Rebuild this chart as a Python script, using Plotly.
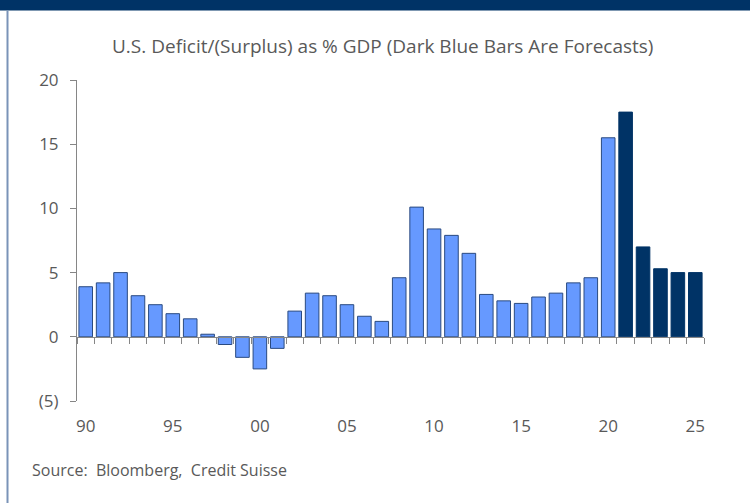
import plotly.graph_objects as go

years = list(range(1990, 2026))
deficit = [3.9, 4.2, 5.0, 3.2, 2.5, 1.8, 1.4, 0.2, -0.6, -1.6, -2.5, -0.9,
           2.0, 3.4, 3.2, 2.5, 1.6, 1.2, 4.6, 10.1, 8.4, 7.9, 6.5, 3.3,
           2.8, 2.6, 3.1, 3.4, 4.2, 4.6, 15.5, 17.5, 7.0, 5.3, 5.0, 5.0]
first_forecast_year = 2021
x_tick_vals = [1990, 1995, 2000, 2005, 2010, 2015, 2020, 2025]
x_tick_text = ["90", "95", "00", "05", "10", "15", "20", "25"]
y_tick_vals = [-5, 0, 5, 10, 15, 20]
y_tick_text = ["(5)", "0", "5", "10", "15", "20"]
title_text = "U.S. Deficit/(Surplus) as % GDP (Dark Blue Bars Are Forecasts)"
source_text = "Source:  Bloomberg,  Credit Suisse"

LIGHT = "#6699FF"
LIGHT_EDGE = "#2A4A80"
DARK = "#003366"
TEXT = "#595959"
AXIS = "#868686"
FONT = "Open Sans, sans-serif"

hist_x = [y for y in years if y < first_forecast_year]
hist_y = [v for y, v in zip(years, deficit) if y < first_forecast_year]
fc_x = [y for y in years if y >= first_forecast_year]
fc_y = [v for y, v in zip(years, deficit) if y >= first_forecast_year]

fig = go.Figure()
fig.add_trace(go.Bar(x=hist_x, y=hist_y, marker=dict(color=LIGHT, line=dict(color=LIGHT_EDGE, width=1)),
                     hoverinfo="skip"))
fig.add_trace(go.Bar(x=fc_x, y=fc_y, marker=dict(color=DARK, line=dict(color=DARK, width=1)),
                     hoverinfo="skip"))
# invisible trace to carry the zero-line axis with boundary ticks
fig.add_trace(go.Scatter(x=years, y=deficit, xaxis="x2", mode="markers",
                         marker=dict(opacity=0), hoverinfo="skip", showlegend=False))

xr = [years[0] - 0.5, years[-1] + 0.5]
boundaries = [y - 0.5 for y in years] + [years[-1] + 0.5]
yr = [y_tick_vals[0], y_tick_vals[-1]]
zero_pos = (0 - yr[0]) / (yr[1] - yr[0])

W, H = 750, 503
L, R, T, B = 77, 46, 79.5, 102
pw, ph = W - L - R, H - T - B

def px_x(p):
    return (p - L) / pw

def px_y(p):
    return (H - B - p) / ph

fig.update_layout(
    width=W, height=H,
    margin=dict(l=L, r=R, t=T, b=B, autoexpand=False),
    paper_bgcolor="white", plot_bgcolor="white",
    showlegend=False, barmode="overlay", bargap=0.22,
    font=dict(family=FONT, color=TEXT),
    xaxis=dict(range=xr, tickvals=x_tick_vals, ticktext=x_tick_text,
               showline=False, showgrid=False, zeroline=False,
               ticks="outside", ticklen=10, tickcolor="rgba(0,0,0,0)",
               tickfont=dict(size=17, color=TEXT, family=FONT), fixedrange=True),
    xaxis2=dict(range=xr, overlaying="x", anchor="free", position=zero_pos,
                tickvals=boundaries, showticklabels=False, showline=True,
                linecolor=AXIS, linewidth=1, ticks="outside", ticklen=6,
                tickcolor=AXIS, tickwidth=1, showgrid=False, zeroline=False,
                side="bottom"),
    yaxis=dict(range=yr, tickvals=y_tick_vals, ticktext=y_tick_text,
               showline=True, linecolor=AXIS, linewidth=1, ticks="outside",
               ticklen=6, tickcolor=AXIS, showgrid=False, zeroline=False,
               tickfont=dict(size=17, color=TEXT, family=FONT),
               ticklabelstandoff=8),
    shapes=[
        dict(type="rect", xref="paper", yref="paper", x0=px_x(-5), x1=px_x(W + 5),
             y0=px_y(10), y1=px_y(-5), fillcolor="#003366", line=dict(width=0), layer="above"),
        dict(type="line", xref="paper", yref="paper", x0=px_x(7.5), x1=px_x(7.5),
             y0=px_y(10), y1=px_y(H + 5), line=dict(color="#7A93B8", width=2)),
    ],
    annotations=[
        dict(text=title_text, xref="paper", yref="paper", x=px_x(382), y=px_y(45),
             xanchor="center", yanchor="middle", showarrow=False,
             font=dict(size=19, color=TEXT, family=FONT)),
        dict(text=source_text, xref="paper", yref="paper", x=px_x(30), y=px_y(470),
             xanchor="left", yanchor="middle", showarrow=False,
             font=dict(size=16, color=TEXT, family=FONT)),
    ],
)

fig.write_html("out.html")
